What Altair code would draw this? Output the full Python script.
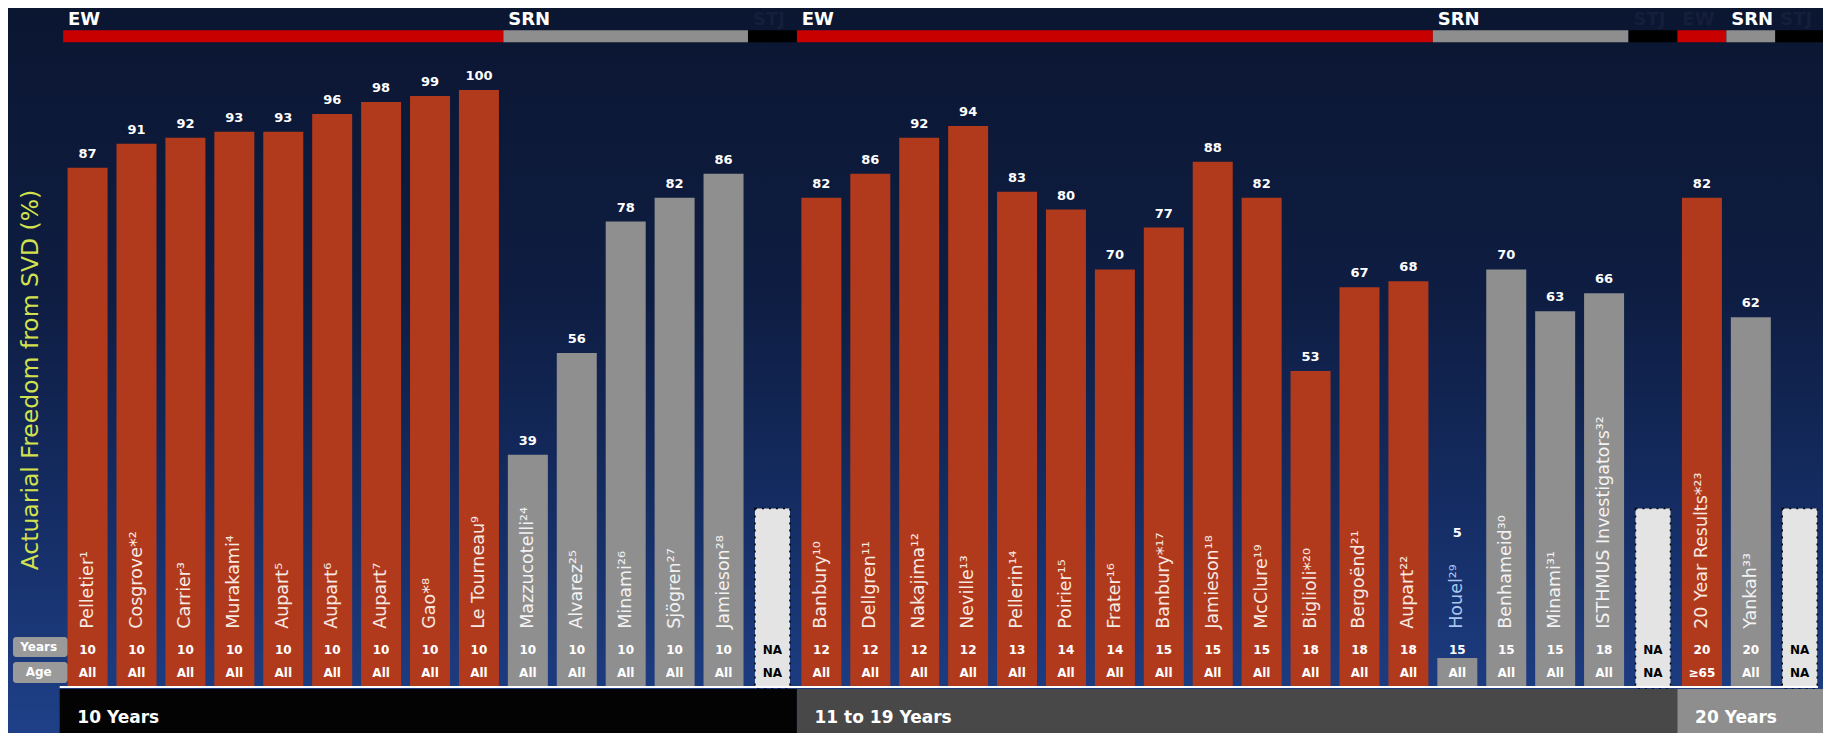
import altair as alt
import pandas as pd

# ---------------- data ----------------
studies = ["Pelletier¹", "Cosgrove*²", "Carrier³", "Murakami⁴", "Aupart⁵", "Aupart⁶", "Aupart⁷", "Gao*⁸",
           "Le Tourneau⁹", "Mazzucotelli²⁴", "Alvarez²⁵", "Minami²⁶", "Sjögren²⁷", "Jamieson²⁸", "",
           "Banbury¹⁰", "Dellgren¹¹", "Nakajima¹²", "Neville¹³", "Pellerin¹⁴", "Poirier¹⁵", "Frater¹⁶",
           "Banbury*¹⁷", "Jamieson¹⁸", "McClure¹⁹", "Biglioli*²⁰", "Bergoënd²¹", "Aupart²²",
           "Houel²⁹", "Benhameid³⁰", "Minami³¹", "ISTHMUS Investigators³²", "",
           "20 Year Results*²³", "Yankah³³", ""]
freedom = [87, 91, 92, 93, 93, 96, 98, 99, 100, 39, 56, 78, 82, 86, None,
           82, 86, 92, 94, 83, 80, 70, 77, 88, 82, 53, 67, 68,
           5, 70, 63, 66, None,
           82, 62, None]
manufacturer = (["EW"] * 9 + ["SRN"] * 5 + ["STJ"] +
                ["EW"] * 13 + ["SRN"] * 4 + ["STJ"] +
                ["EW", "SRN", "STJ"])
follow_years = (["10"] * 14 + ["NA"] +
                ["12", "12", "12", "12", "13", "14", "14", "15", "15", "15", "18", "18", "18",
                 "15", "15", "15", "18", "NA", "20", "20", "NA"])
age_group = (["All"] * 14 + ["NA"] + ["All"] * 13 + ["All"] * 4 + ["NA"] + ["≥65", "All", "NA"])
period = ["10 Years"] * 15 + ["11 to 19 Years"] * 18 + ["20 Years"] * 3
y_title = "Actuarial Freedom from SVD (%)"

# ---------------- layout constants ----------------
W, H = 1815, 725
X0, PITCH = 75.0, 49.19          # pixel of first column centre, column pitch
Y0, PXU = 680.0, 5.98            # pixel of value 0, pixels per unit
XMIN = 1 - X0 / PITCH
XMAX = 1 + (W - X0) / PITCH
YMAX = Y0 / PXU
YMIN = -(H - Y0) / PXU
NA_BOX = 30

xs = alt.Scale(domain=[XMIN, XMAX], nice=False, zero=False)
ys = alt.Scale(domain=[YMIN, YMAX], nice=False, zero=False)


def X(f):
    return alt.X(f, type="quantitative", scale=xs, axis=None)


def X2(f):
    return alt.X2(f)


def Y(f):
    return alt.Y(f, type="quantitative", scale=ys, axis=None)


def C(f):
    return alt.Color(f, type="nominal", scale=None, legend=None)


FONT = "DejaVu Sans"

BAR_COL = {"EW": "#b23a1c", "SRN": "#8f8f8f", "STJ": "#000000"}
HDR_COL = {"EW": "#c80000", "SRN": "#8e8e8e", "STJ": "#000000"}
BAND_COL = {"10 Years": "#030303", "11 to 19 Years": "#484848", "20 Years": "#8e8e8e"}

df = pd.DataFrame({
    "i": list(range(1, len(studies) + 1)),
    "study": studies,
    "value": freedom,
    "mfr": manufacturer,
    "years": follow_years,
    "age": age_group,
    "period": period,
})
df["is_na"] = df["value"].isna()
bars = df[~df["is_na"]].copy()
bars["zero"] = 0.0
bars["label_y"] = bars["value"].where(bars["value"] >= 20, bars["value"] + 18.5)
bars["vtxt"] = bars["value"].astype(int).astype(str)
bars["fill"] = bars["mfr"].map(BAR_COL)
bars["name_col"] = [
    "#a9c6ee" if v < 30 else ("#f7e9e2" if m == "EW" else "#f2f2f2")
    for v, m in zip(bars["value"], bars["mfr"])
]
bars["name_y"] = 9.9

nas = df[df["is_na"]].copy()
nas["zero"] = 0.0
nas["top"] = float(NA_BOX)

rows = df.copy()
rows["txtcol"] = ["#000000" if n else "#ffffff" for n in rows["is_na"]]
rows["yr_y"] = 6.35
rows["age_y"] = 2.5

# header segments (runs of manufacturer)
segs = []
start = 0
for k in range(1, len(manufacturer) + 1):
    if k == len(manufacturer) or manufacturer[k] != manufacturer[start]:
        segs.append({"mfr": manufacturer[start], "s": start + 1 - 0.5, "e": k + 0.5,
                     "n": k - start})
        start = k
seg = pd.DataFrame(segs)
seg["y1"] = 108.0
seg["y2"] = 110.0
seg["ty"] = 111.7
seg["tx"] = seg["s"] + 0.1
seg["fill"] = seg["mfr"].map(HDR_COL)
seg["tcol"] = ["#151e3a" if (m == "STJ" or (m == "EW" and n == 1)) else "#ffffff"
               for m, n in zip(seg["mfr"], seg["n"])]

# bottom period bands
bands = df.groupby("period", sort=False)["i"].agg(["min", "max"]).reset_index()
bands["s"] = bands["min"] - 0.5
bands.loc[0, "s"] = bands.loc[0, "s"] - 0.07
bands["e"] = bands["max"] + 0.5
bands["tx"] = bands["s"] + 0.36
bands["ty"] = -5.0
bands["y1"] = -0.17
bands["y2"] = YMIN
bands["fill"] = bands["period"].map(BAND_COL)

# ---------------- layers ----------------
one = pd.DataFrame({"a": [0]})
grad = alt.LinearGradient(
    gradient="linear", x1=0, x2=0, y1=0, y2=1,
    stops=[alt.GradientStop(color="#0b1631", offset=0),
           alt.GradientStop(color="#0e1d42", offset=0.4),
           alt.GradientStop(color="#16306a", offset=0.75),
           alt.GradientStop(color="#1f4088", offset=1)])
bg = alt.Chart(one).mark_rect(fill=grad).encode(
    x=alt.value(0), x2=alt.value(W), y=alt.value(0), y2=alt.value(H))

hdr = alt.Chart(seg).mark_rect(clip=True).encode(
    x=X("s"), x2=X2("e"), y=Y("y1"), y2=alt.Y2("y2"), color=C("fill"))
hdr_txt = alt.Chart(seg).mark_text(align="left", baseline="middle", font=FONT,
                                    fontSize=18, fontWeight="bold").encode(
    x=X("tx"), y=Y("ty"), text="mfr:N", color=C("tcol"))

bar_l = alt.Chart(bars).mark_bar(size=40).encode(
    x=X("i"), y=Y("value"), y2=alt.Y2("zero"), color=C("fill"))
na_l = alt.Chart(nas).mark_bar(size=35, fill="#e4e4e4", stroke="#000000",
                               strokeWidth=1.5, strokeDash=[2, 5]).encode(
    x=X("i"), y=Y("top"), y2=alt.Y2("zero"))

val_txt = alt.Chart(bars).mark_text(baseline="middle", dy=-14, font=FONT, fontSize=13,
                                     fontWeight="bold", color="#ffffff").encode(
    x=X("i"), y=Y("label_y"), text="vtxt:N")
name_txt = alt.Chart(bars).mark_text(angle=270, align="left", baseline="middle", font=FONT,
                                      fontSize=17.5).encode(
    x=X("i"), y=Y("name_y"), text="study:N", color=C("name_col"))

yr_txt = alt.Chart(rows).mark_text(baseline="middle", font=FONT, fontSize=12,
                                    fontWeight="bold").encode(
    x=X("i"), y=Y("yr_y"), text="years:N", color=C("txtcol"))
age_txt = alt.Chart(rows).mark_text(baseline="middle", font=FONT, fontSize=12,
                                     fontWeight="bold").encode(
    x=X("i"), y=Y("age_y"), text="age:N", color=C("txtcol"))

rowlab = pd.DataFrame({"lab": ["Years", "Age"], "y1": [5.18, 0.84], "y2": [8.53, 4.35]})
rowlab["s"] = XMIN
rowlab["e"] = 0.59
rowlab["tx"] = 0.0
rowlab["ty"] = (rowlab["y1"] + rowlab["y2"]) / 2
rowbox = alt.Chart(rowlab).mark_rect(color="#9a9a9a", cornerRadius=3).encode(
    x=X("s"), x2=X2("e"), y=Y("y1"), y2=alt.Y2("y2"))
rowbox_txt = alt.Chart(rowlab).mark_text(baseline="middle", font=FONT, fontSize=12,
                                          fontWeight="bold", color="#ffffff").encode(
    x=X("tx"), y=Y("ty"), text="lab:N")

band_l = alt.Chart(bands).mark_rect(clip=True).encode(
    x=X("s"), x2=X2("e"), y=Y("y1"), y2=alt.Y2("y2"), color=C("fill"))
band_txt = alt.Chart(bands).mark_text(align="left", baseline="middle", font=FONT,
                                       fontSize=17, fontWeight="bold", color="#ffffff").encode(
    x=X("tx"), y=Y("ty"), text="period:N")
line_df = pd.DataFrame({"s": [bands["s"].min()], "e": [XMAX], "y": [0.17]})
white_line = alt.Chart(line_df).mark_rule(color="#ffffff", strokeWidth=2).encode(
    x=X("s"), x2=X2("e"), y=Y("y"))

title_df = pd.DataFrame({"t": [y_title], "x": [-0.16], "y": [51.5]})
title_txt = alt.Chart(title_df).mark_text(angle=270, align="center", baseline="middle",
                                           font=FONT, fontSize=23.5, color="#d2e24e").encode(
    x=X("x"), y=Y("y"), text="t:N")

chart = alt.layer(
    bg, hdr, hdr_txt, bar_l, na_l, val_txt, name_txt, yr_txt, age_txt,
    rowbox, rowbox_txt, band_l, white_line, band_txt, title_txt
).properties(
    width=W, height=H, padding=0, background="#0b1631",
    autosize=alt.AutoSizeParams(type="none")
).configure_view(stroke=None)

chart.save("out.html", embed_options={"renderer": "svg", "actions": False})
